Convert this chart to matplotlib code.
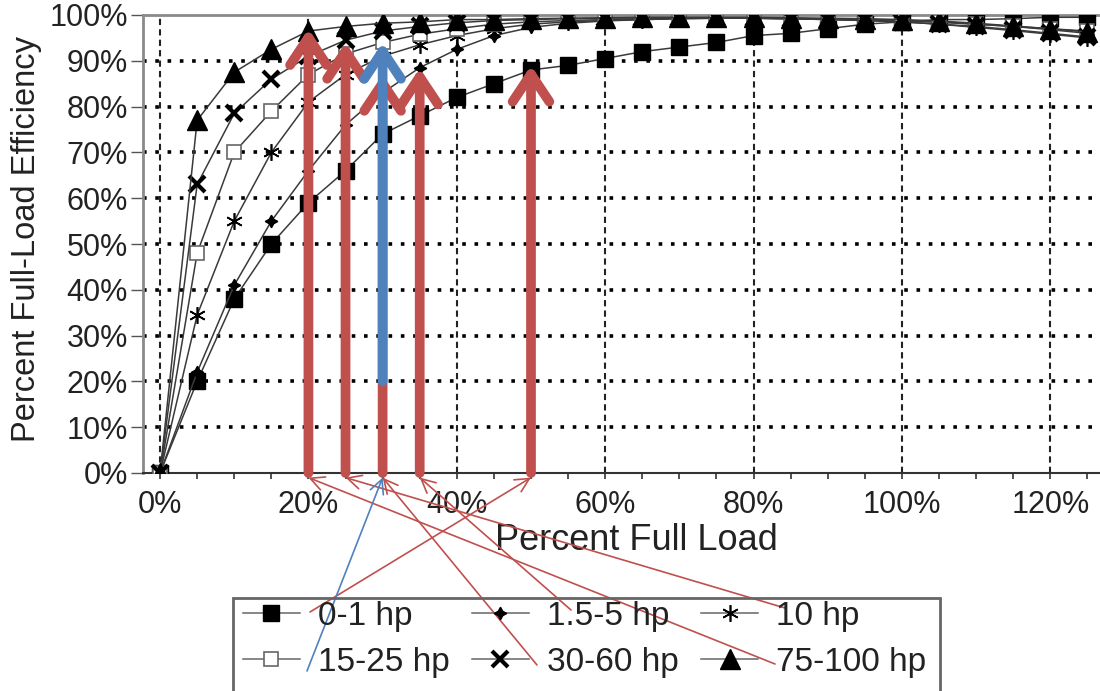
import matplotlib
matplotlib.use('Agg')
import matplotlib.pyplot as plt
from matplotlib.patches import Rectangle

plt.rcParams['font.family'] = ['Liberation Sans', 'DejaVu Sans']

# Percent full load (x) and efficiency (%)
load = [0, 5, 10, 15, 20, 25, 30, 35, 40, 45, 50, 55, 60, 65, 70, 75, 80, 85, 90, 95, 100, 105, 110, 115, 120, 125]
eff_0_1 = [0, 20, 38, 50, 59, 66, 74, 78, 82, 85, 88, 89, 90.5, 92, 93, 94, 95.5, 96, 97, 98, 98.5, 99, 99, 99.2, 99.5, 99.5]
eff_1_5 = [0, 22, 41, 55, 66, 76, 83, 88.5, 92.5, 95.5, 97.3, 98.2, 98.7, 99, 99.2, 99.3, 99.3, 99.2, 99.1, 99, 98.8, 98.4, 98, 97.5, 96.8, 96]
eff_10 = [0, 34.5, 55, 70, 81, 87, 91, 93.5, 95.5, 97, 98, 98.5, 98.8, 99, 99.2, 99.3, 99.3, 99.2, 99, 98.8, 98.5, 98, 97.3, 96.6, 95.8, 95]
eff_15_25 = [0, 48, 70, 79, 87, 91.5, 94, 95.8, 97, 98, 98.5, 98.8, 99, 99.2, 99.3, 99.3, 99.3, 99.2, 99.1, 99, 98.8, 98.5, 98, 97.5, 97, 96.5]
eff_30_60 = [0, 63, 78.5, 86, 91, 94.5, 96.5, 97.5, 98.3, 98.8, 99, 99.2, 99.3, 99.4, 99.4, 99.4, 99.3, 99.2, 99, 98.8, 98.5, 98, 97.5, 96.8, 96, 95.2]
eff_75_100 = [0, 77, 87.5, 92.5, 96.5, 97.5, 98.2, 98.5, 99, 99, 99.2, 99.3, 99.4, 99.5, 99.5, 99.5, 99.5, 99.4, 99.3, 99.2, 99, 98.7, 98.2, 97.6, 97, 96.3]

labels = ['0-1 hp', '1.5-5 hp', '10 hp', '15-25 hp', '30-60 hp', '75-100 hp']

x_ticks = [0, 20, 40, 60, 80, 100, 120]
x_ticklabels = ['0%', '20%', '40%', '60%', '80%', '100%', '120%']
y_ticks = [0, 10, 20, 30, 40, 50, 60, 70, 80, 90, 100]
y_ticklabels = ['0%', '10%', '20%', '30%', '40%', '50%', '60%', '70%', '80%', '90%', '100%']

# annotation arrows: x position, start and tip (percent efficiency)
red_x = [20, 25, 30, 35, 50]
red_tip = [97, 94, 87, 88.4, 89]
blue_x = 30
blue_base = 20
blue_tip = 94
# thin pointer lines: legend point (figure pixels from top-left) -> arrow base
pointer_from = [(310, 612), (785, 608), (537, 665), (571, 610), (775, 664)]
pointer_to = [50, 25, 30, 35, 20]
blue_pointer_from = (307, 671)

RED = '#c0504d'
BLUE = '#4f81bd'
LINE = '#3a3a3a'
TXT = '#222222'

W, H = 1100, 691
fig = plt.figure(figsize=(11, 6.91), dpi=100)
ax = fig.add_axes([143 / W, 1 - 473 / H, (W - 143) / W, (473 - 15) / H])

series = [eff_0_1, eff_1_5, eff_10, eff_15_25, eff_30_60, eff_75_100]
styles = [
    dict(marker='s', ms=11, mfc='black', mec='black'),
    dict(marker=(4, 1, 0), ms=9, mfc='black', mec='black', mew=1),
    dict(marker=(6, 2, 0), ms=12, mfc='black', mec='black', mew=1.2),
    dict(marker='s', ms=10, mfc='white', mec='#666666', mew=1.2),
    dict(marker='x', ms=11, mfc='black', mec='black', mew=3),
    dict(marker='^', ms=14, mfc='black', mec='black'),
]
handles = []
for vals, lab, st in zip(series, labels, styles):
    h, = ax.plot(load, vals, color=LINE, lw=1.1, label=lab, zorder=3, **st)
    handles.append(h)

ax.set_xlim(-2.3, 126.7)
ax.set_ylim(0, 100)

ax.set_xticks(x_ticks)
ax.set_xticklabels(x_ticklabels)
ax.set_xticks(range(0, 126, 5), minor=True)
ax.set_yticks(y_ticks)
ax.set_yticklabels(y_ticklabels)
ax.tick_params(axis='y', direction='out', length=9, width=1, color='#555555',
               labelsize=22, labelcolor=TXT, pad=2)
ax.tick_params(axis='x', which='both', direction='out', length=4, width=1.2, color='#333333',
               labelsize=22, labelcolor=TXT, pad=8)

# grid: dotted horizontals, dashed verticals
for yv in y_ticks[1:-1]:
    ax.axhline(yv, color='black', lw=2.6, ls=(0, (1, 2.4)), zorder=1)
for xv in x_ticks:
    ax.axvline(xv, color='#222222', lw=1.5, ls=(0, (3, 2)), zorder=1)

ax.spines['right'].set_visible(False)
ax.spines['left'].set_color('#8a8a8a')
ax.spines['left'].set_linewidth(2)
ax.spines['top'].set_color('#8a8a8a')
ax.spines['top'].set_linewidth(2)
ax.spines['bottom'].set_color('#333333')
ax.spines['bottom'].set_linewidth(1.5)

ax.set_xlabel('Percent Full Load', fontsize=26, color=TXT)
ax.xaxis.set_label_coords(0.516, -0.11)
ax.set_ylabel('Percent Full-Load Efficiency', fontsize=23.5, color=TXT)
ax.yaxis.set_label_coords(-0.106, 0.51)

# thick arrows
for xv, tip in zip(red_x, red_tip):
    ax.annotate('', xy=(xv, tip), xytext=(xv, 0),
                arrowprops=dict(arrowstyle='->,head_length=0.9,head_width=0.6', lw=7,
                                color=RED, shrinkA=0, shrinkB=0, mutation_scale=22),
                zorder=5, annotation_clip=False)
ax.annotate('', xy=(blue_x, blue_tip), xytext=(blue_x, blue_base),
            arrowprops=dict(arrowstyle='->,head_length=0.9,head_width=0.6', lw=7,
                            color=BLUE, shrinkA=0, shrinkB=0, mutation_scale=22),
            zorder=6, annotation_clip=False)

# thin pointer lines from the legend to the arrow bases
for (px, py), xv in zip(pointer_from, pointer_to):
    ax.annotate('', xy=(xv, -1), xycoords='data',
                xytext=(px, H - py), textcoords='figure pixels',
                arrowprops=dict(arrowstyle='->,head_length=0.5,head_width=0.25', lw=1.2,
                                color=RED, shrinkA=0, shrinkB=0, mutation_scale=20),
                annotation_clip=False, zorder=7)
ax.annotate('', xy=(blue_x, -1), xycoords='data',
            xytext=(blue_pointer_from[0], H - blue_pointer_from[1]), textcoords='figure pixels',
            arrowprops=dict(arrowstyle='->,head_length=0.5,head_width=0.25', lw=1.2,
                            color=BLUE, shrinkA=0, shrinkB=0, mutation_scale=20),
            annotation_clip=False, zorder=7)

# legend (column-major order for 3 columns)
order = [0, 3, 1, 4, 2, 5]
leg = fig.legend([handles[i] for i in order], [labels[i] for i in order], ncol=3,
                 loc='upper left', bbox_to_anchor=(243 / W, 1 - 601 / H),
                 frameon=False, fontsize=24, numpoints=1, handlelength=1.7,
                 handletextpad=0.54, columnspacing=0.68, labelspacing=0.44,
                 borderpad=0, borderaxespad=0)
for t in leg.get_texts():
    t.set_color(TXT)
for lh in leg.legend_handles:
    lh.set_color('#666666')
fig.patches.append(Rectangle((233 / W, -0.05), (940 - 233) / W, 0.05 + (691 - 598) / H,
                             transform=fig.transFigure, fill=False, edgecolor='#666666', lw=2))

fig.savefig('out.png', dpi=100)
